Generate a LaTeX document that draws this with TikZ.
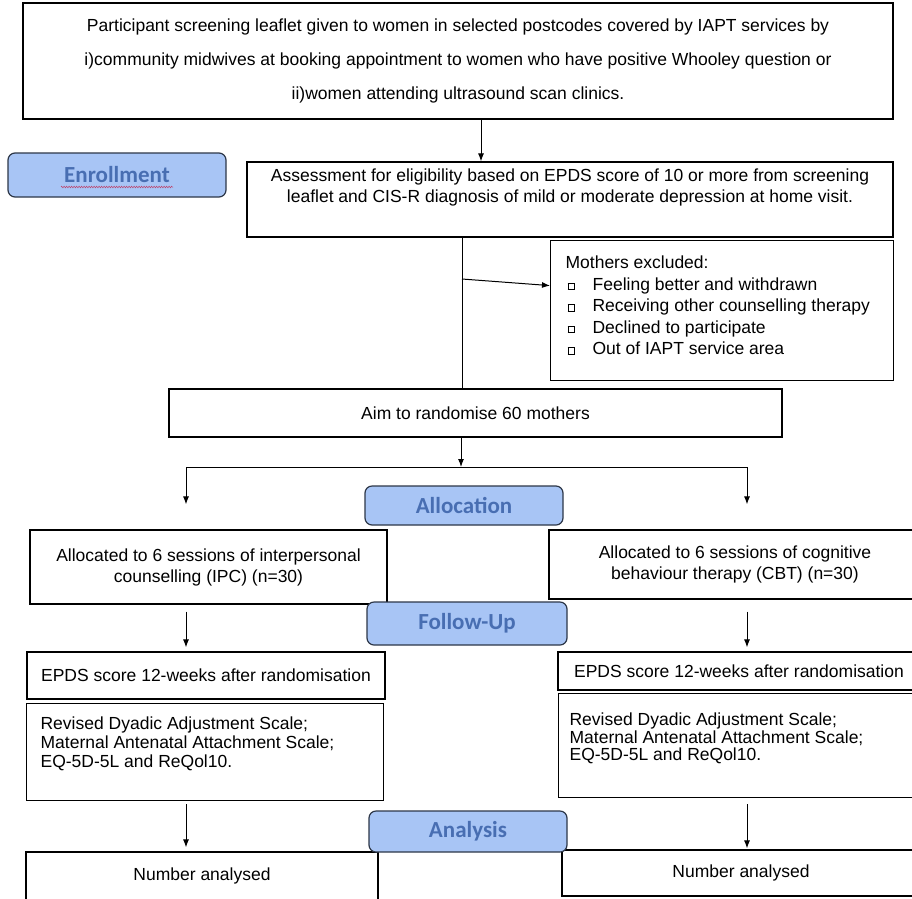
\documentclass[tikz,border=0pt]{standalone}
\usepackage{fontspec}
\setmainfont{Liberation Sans}
\newfontfamily\lblfont{Carlito}
\usetikzlibrary{arrows.meta}
\usetikzlibrary{decorations.pathmorphing}
\definecolor{lblfill}{RGB}{168,197,245}
\definecolor{lbltext}{RGB}{72,110,178}
\definecolor{lbledge}{RGB}{45,55,72}
\definecolor{squig}{RGB}{190,60,100}
\tikzset{txtbox/.style = {draw, line width=1.2pt, inner sep=0pt, align=center,
    font=\fontsize{17.5}{21}\selectfont}}
\tikzset{stage/.style = {draw=lbledge, line width=1.2pt, fill=lblfill, rounded corners=7pt,
    text=lbltext, inner sep=0pt, font=\lblfont\bfseries\fontsize{23}{25}\selectfont}}
\tikzset{arr/.style = {-{Latex[length=8pt,width=6pt]}, line width=1pt}}
\tikzset{link/.style = {line width=1pt}}
\newcommand\sqbul{\raisebox{1pt}{\fboxsep=0pt\fboxrule=0.7pt\fbox{\rule{0pt}{6pt}\hspace{6pt}}}}
\newcommand\exitem[1]{\makebox[27pt][l]{\hspace{2pt}\sqbul}#1}

\begin{document}
\begin{tikzpicture}[x=1pt, y=-1pt]
    \useasboundingbox (0,0) rectangle (912,898);
    \fill[white] (0,0) rectangle (912,898);

    % boxes
    \node[txtbox, minimum width=870pt, minimum height=116pt, font=\fontsize{17.5}{34}\selectfont] (leaflet) at (458,61)
        {Participant screening leaflet given to women in selected postcodes covered by IAPT services by\\
         i)community midwives at booking appointment to women who have positive Whooley question or\\
         ii)women attending ultrasound scan clinics.};
    \node[txtbox, minimum width=646pt, minimum height=75pt] (assess) at (570,199.5)
        {Assessment for eligibility based on EPDS score of 10 or more from screening\\
         leaflet and CIS-R diagnosis of mild or moderate depression at home visit.\\ \strut};
    \node[txtbox, anchor=north west, inner xsep=15pt, inner ysep=15.5pt] (excl) at (550,240)
        {\parbox[c][109pt][t]{313pt}{\raggedright\fontsize{17.5}{21.5}\selectfont
         Mothers excluded:\\
         \exitem{Feeling better and withdrawn}\\
         \exitem{Receiving other counselling therapy}\\
         \exitem{Declined to participate}\\
         \exitem{Out of IAPT service area}}};
    \node[txtbox, minimum width=613pt, minimum height=48pt] (aim) at (475.5,413) {Aim to randomise 60 mothers};

    \node[txtbox, minimum width=357pt, minimum height=74pt] (ipc) at (208.5,567)
        {Allocated to 6 sessions of interpersonal\\counselling (IPC) (n=30)};
    \node[txtbox, minimum width=372pt, minimum height=69pt] (cbt) at (735,564.5)
        {Allocated to 6 sessions of cognitive\\behaviour therapy (CBT) (n=30)};

    \node[txtbox, minimum width=358pt, minimum height=47pt] (epdsL) at (206,675.5) {EPDS score 12-weeks after randomisation};
    \node[txtbox, minimum width=362pt, minimum height=38pt] (epdsR) at (739,671) {EPDS score 12-weeks after randomisation};

    \node[txtbox, anchor=north west, inner xsep=14pt, inner ysep=13pt] (revL) at (26,703)
        {\parbox[c][71pt][t]{329pt}{\raggedright\fontsize{17.5}{19}\selectfont
         Revised Dyadic Adjustment Scale;\\
         Maternal Antenatal Attachment Scale;\\
         EQ-5D-5L and ReQol10.}};
    \node[txtbox, anchor=north west, inner xsep=11pt, inner ysep=19.5pt] (revR) at (558,693)
        {\parbox[c][65pt][t]{340pt}{\raggedright\fontsize{17.5}{17.5}\selectfont
         Revised Dyadic Adjustment Scale;\\
         Maternal Antenatal Attachment Scale;\\
         EQ-5D-5L and ReQol10.}};

    \node[txtbox, minimum width=352pt, minimum height=48pt] (naL) at (202,876) {Number analysed};
    \node[txtbox, minimum width=358pt, minimum height=46pt] (naR) at (741,873) {Number analysed};

    % connectors
    \coordinate (c1) at (481,0);
    \coordinate (c2) at (462,0);
    \coordinate (exfrom) at (462,279);
    \coordinate (split) at (461,467);
    \coordinate (splitL) at (186,467);
    \coordinate (splitR) at (747,467);

    \draw[arr] (leaflet.south -| c1) -- (assess.north -| c1);
    \draw[link] (assess.south -| c2) -- (aim.north -| c2);
    \draw[arr] (exfrom) -- ([yshift=25pt]excl.west);
    \draw[arr] (aim.south -| split) -- (split);
    \draw[link] (splitL) -- (splitR);
    \draw[arr, shorten >=25pt] (splitL) -- (ipc.north -| splitL);
    \draw[arr, shorten >=25pt] (splitR) -- (cbt.north -| splitR);
    \draw[arr, shorten <=7pt, shorten >=4pt] (ipc.south -| splitL) -- (epdsL.north -| splitL);
    \draw[arr, shorten <=12pt, shorten >=4pt] (cbt.south -| splitR) -- (epdsR.north -| splitR);
    \draw[arr, shorten <=3pt, shorten >=4pt] (revL.south -| splitL) -- (naL.north -| splitL);
    \draw[arr, shorten <=6pt, shorten >=1pt] (revR.south -| splitR) -- (naR.north -| splitR);

    % stage labels
    \node[stage, minimum width=218pt, minimum height=44pt] (enrol) at (117,175) {Enrollment};
    \draw[squig, line width=0.5pt, decorate, decoration={zigzag, segment length=2.5pt, amplitude=0.8pt}]
        ([xshift=-56pt, yshift=-12pt]enrol.center) -- ([xshift=56pt, yshift=-12pt]enrol.center);
    \node[stage, minimum width=198pt, minimum height=39pt] (alloc) at (464,505.5) {Allocation};
    \node[stage, minimum width=200pt, minimum height=43pt] (follow) at (467,623.5) {Follow-Up};
    \node[stage, minimum width=198pt, minimum height=41pt] (analysis) at (468,831.5) {Analysis};
\end{tikzpicture}
\end{document}
